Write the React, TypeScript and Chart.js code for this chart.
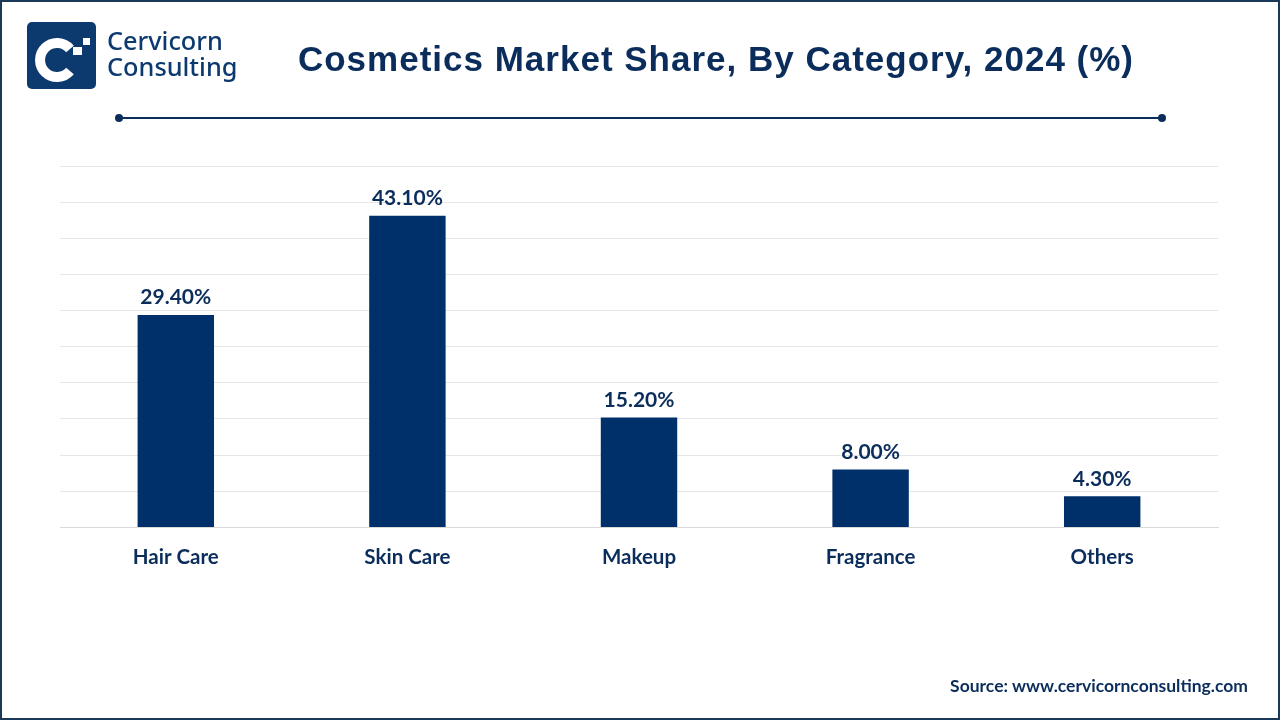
import React, { useEffect, useRef } from "react";
import { Chart, registerables } from "chart.js";

Chart.register(...registerables);

const categories = ["Hair Care", "Skin Care", "Makeup", "Fragrance", "Others"];
const shares = [29.4, 43.1, 15.2, 8.0, 4.3];
const yMax = 50;
const yStep = 5;

const NAVY = "#0B2D5B";
const BAR = "#00306A";

const labelPlugin = {
  id: "barLabels",
  afterDatasetsDraw(chart: any) {
    const { ctx } = chart;
    const meta = chart.getDatasetMeta(0);
    ctx.save();
    ctx.fillStyle = NAVY;
    ctx.font = "bold 21px Lato, 'Open Sans', sans-serif";
    ctx.textAlign = "center";
    ctx.textBaseline = "bottom";
    meta.data.forEach((bar: any, i: number) => {
      ctx.fillText(shares[i].toFixed(2) + "%", bar.x, bar.y - 7);
    });
    ctx.restore();
  },
};

function Logo() {
  return (
    <svg width="69" height="67" viewBox="0 0 69 67" style={{ position: "absolute", left: 27, top: 22 }}>
      <rect x="0" y="0" width="69" height="67" rx="5" fill="#0D3A6E" />
      <path d="M 43 27 A 17 17 0 1 0 43 49" fill="none" stroke="#fff" strokeWidth="10" />
      <rect x="46" y="25" width="9" height="8" fill="#fff" />
      <rect x="56" y="16" width="7" height="7" fill="#fff" />
    </svg>
  );
}

export default function App() {
  const ref = useRef<HTMLCanvasElement | null>(null);
  useEffect(() => {
    if (!ref.current) return;
    const chart = new Chart(ref.current, {
      type: "bar",
      data: {
        labels: categories,
        datasets: [
          {
            data: shares,
            backgroundColor: BAR,
            barPercentage: 0.33,
            categoryPercentage: 1,
          },
        ],
      },
      options: {
        animation: false,
        responsive: false,
        maintainAspectRatio: false,
        layout: { padding: { left: 60, right: 62, top: 166, bottom: 132 } },
        plugins: { legend: { display: false }, tooltip: { enabled: false } },
        scales: {
          x: {
            grid: { display: false, drawTicks: false },
            border: { display: true, color: "#D9D9D9", width: 1 },
            ticks: {
              color: NAVY,
              padding: 18,
              font: { family: "Lato, 'Open Sans', sans-serif", size: 20.5, weight: "bold" },
            },
          },
          y: {
            min: 0,
            max: yMax,
            ticks: { display: false, stepSize: yStep },
            grid: { color: "#E6E6E6", lineWidth: 1, drawTicks: false },
            border: { display: false },
          },
        },
      },
      plugins: [labelPlugin],
    });
    return () => chart.destroy();
  }, []);

  return (
    <div
      style={{
        position: "fixed",
        left: 0,
        top: 0,
        width: 1280,
        height: 720,
        background: "#fff",
        overflow: "hidden",
      }}
    >
      <canvas ref={ref} width={1280} height={720} style={{ position: "absolute", left: 0, top: 0 }} />
      <div
        style={{
          position: "absolute",
          left: 0,
          top: 0,
          width: 1276,
          height: 716,
          border: "2px solid #1B3A5A",
          pointerEvents: "none",
        }}
      />
      <Logo />
      <div
        style={{
          position: "absolute",
          left: 107,
          top: 27,
          fontFamily: "'Noto Sans', 'Open Sans', sans-serif",
          fontSize: 25.3,
          lineHeight: "26px",
          color: "#0D3A6E",
          fontWeight: 500,
        }}
      >
        Cervicorn
        <br />
        Consulting
      </div>
      <div
        style={{
          position: "absolute",
          left: 216,
          top: 38,
          width: 1000,
          textAlign: "center",
          fontFamily: "'Liberation Sans', Arial, sans-serif",
          fontWeight: "bold",
          fontSize: 35,
          lineHeight: "42px",
          letterSpacing: "1px",
          color: "#0B2D5B",
          whiteSpace: "nowrap",
        }}
      >
        Cosmetics Market Share, By Category, 2024 (%)
      </div>
      <div style={{ position: "absolute", left: 119, top: 117, width: 1043, height: 2, background: "#0B2D5B" }} />
      <div style={{ position: "absolute", left: 115, top: 114, width: 8, height: 8, borderRadius: 4, background: "#0B2D5B" }} />
      <div style={{ position: "absolute", left: 1158, top: 114, width: 8, height: 8, borderRadius: 4, background: "#0B2D5B" }} />
      <div
        style={{
          position: "absolute",
          right: 32,
          top: 675,
          fontFamily: "Lato, 'Open Sans', sans-serif",
          fontWeight: "bold",
          fontSize: 17.5,
          color: "#0B2D5B",
          whiteSpace: "nowrap",
        }}
      >
        Source: www.cervicornconsulting.com
      </div>
    </div>
  );
}
